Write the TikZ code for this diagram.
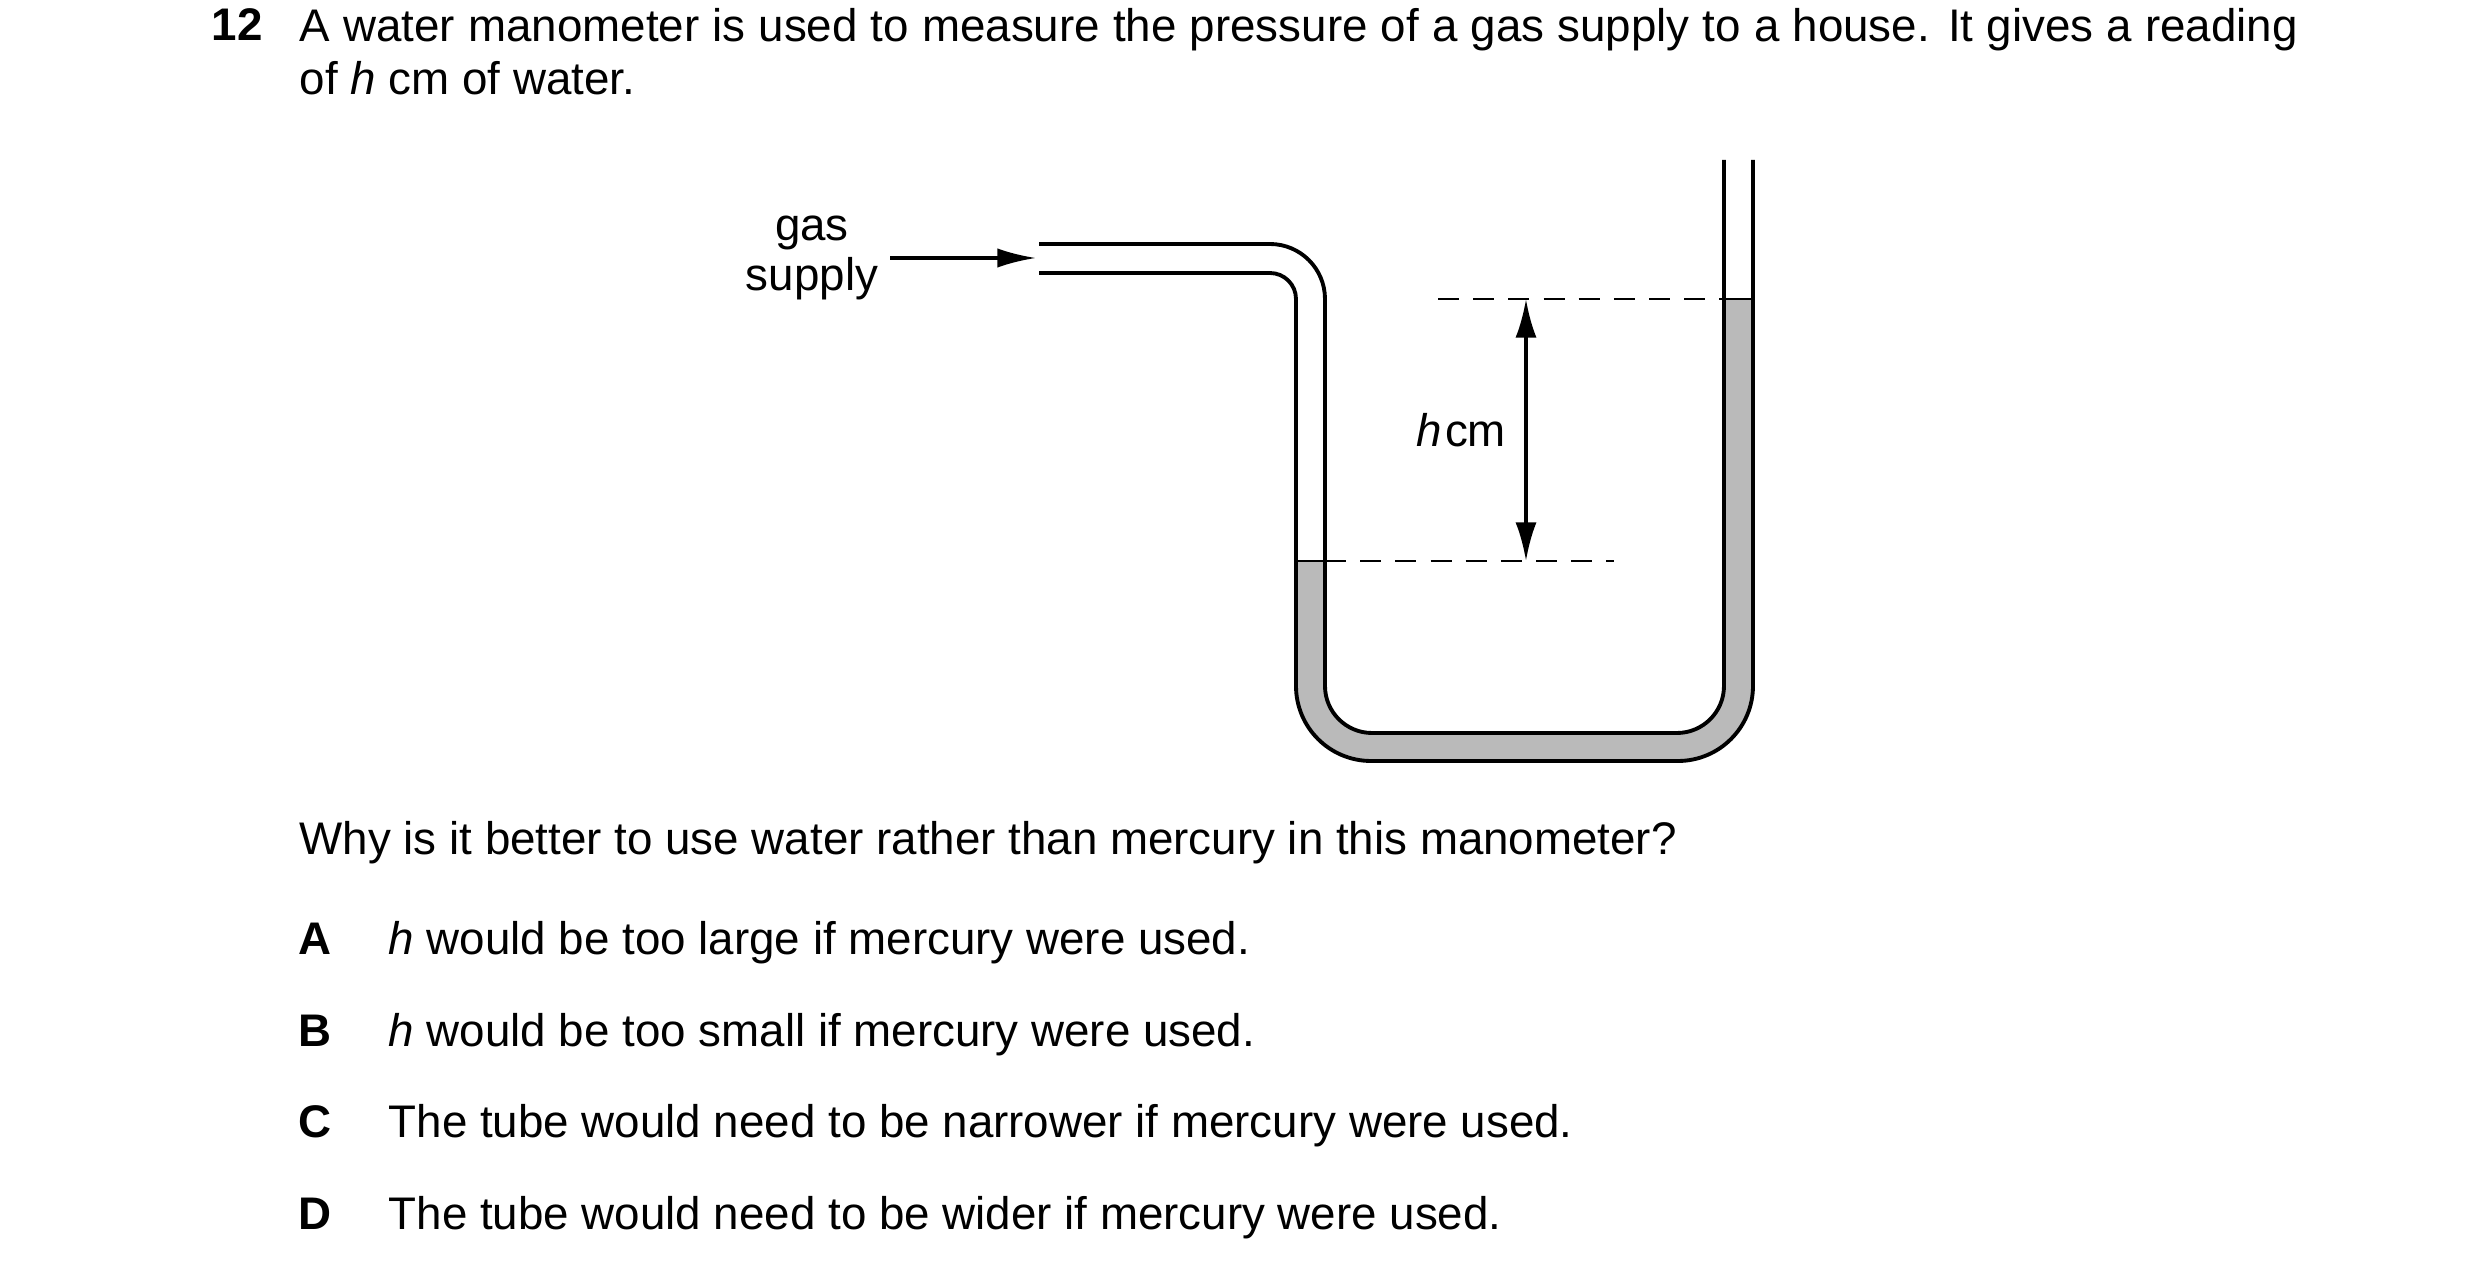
\documentclass[tikz,border=0pt]{standalone}
\usepackage{fontspec}
\setmainfont{Liberation Sans}
\usetikzlibrary{arrows.meta}

\begin{document}
\begin{tikzpicture}[x=0.01cm,y=-0.01cm,
    txt/.style={inner sep=0pt,font=\fontsize{13}{15}\selectfont},
    tube/.style={line width=1.1pt,line join=round},
    level/.style={dashed,dash pattern=on 6pt off 4pt,line width=0.5pt},
    water/.style={fill=black!27,draw=none},
    both/.style={{Latex[length=11pt,width=6pt]}-{Latex[length=11pt,width=6pt]},line width=1pt},
    pointer/.style={-{Latex[length=11pt,width=5.5pt]},line width=0.9pt}]
  \useasboundingbox (0,0) rectangle (2480,1270);
  % question text
  \node[txt,font=\fontsize{13}{15}\selectfont\bfseries,anchor=north west] (num) at (211,8) {12};
  \node[txt,anchor=north west,text width=19.97cm,align=justify] (stem) at (299,8)
    {A water manometer is used to measure the pressure of a gas supply to a house. It gives a reading of \textit{h} cm of water.};
  % water in the U-tube
  \fill[water] (1296,561) [rounded corners=0.75cm] -- (1296,761) -- (1753,761)
    [sharp corners] -- (1753,299) -- (1724,299) [rounded corners=0.47cm] -- (1724,733)
    -- (1325,733) [sharp corners] -- (1325,561) -- cycle;
  % tube walls
  \draw[tube] (1039,244) [rounded corners=0.55cm] -- (1325,244)
    [rounded corners=0.47cm] -- (1325,733) -- (1724,733) [sharp corners] -- (1724,160);
  \draw[tube] (1039,273) [rounded corners=0.26cm] -- (1296,273)
    [rounded corners=0.75cm] -- (1296,761) -- (1753,761) [sharp corners] -- (1753,160);
  \draw[line width=0.4pt] (1296,561) -- (1325,561) (1724,299) -- (1753,299);
  % levels and height
  \coordinate (topL) at (1438,299);
  \coordinate (topR) at (1724,299);
  \coordinate (botL) at (1325,561);
  \coordinate (botR) at (1614,561);
  \draw[level] (topL) -- (topR);
  \draw[level] (botL) -- (botR);
  \coordinate (hup) at (1526,299);
  \coordinate (hdn) at (1526,561);
  \draw[both] (hup) -- (hdn);
  \node[txt,font=\fontsize{13}{15}\selectfont] (hlab) at (1461,430) {\textit{h}\kern1pt cm};
  % gas inlet
  \node[txt,align=center,font=\fontsize{13}{14}\selectfont] (gas) at (812,258) {gas\\supply};
  \coordinate (inlet) at (1036,258);
  \draw[pointer] (890,258) -- (inlet);
  % options
  \node[txt,anchor=base west] (ask) at (299,855) {Why is it better to use water rather than mercury in this manometer?};
  \foreach \l/\t/\y in {A/{\textit{h} would be too large if mercury were used.}/955,
                       B/{\textit{h} would be too small if mercury were used.}/1047,
                       C/{The tube would need to be narrower if mercury were used.}/1138,
                       D/{The tube would need to be wider if mercury were used.}/1229}{
    \node[txt,anchor=base,font=\fontsize{13}{15}\selectfont\bfseries] (opt\l) at (315,\y) {\l};
    \node[txt,anchor=base west] (ans\l) at (388,\y) {\t};
  }
\end{tikzpicture}
\end{document}
